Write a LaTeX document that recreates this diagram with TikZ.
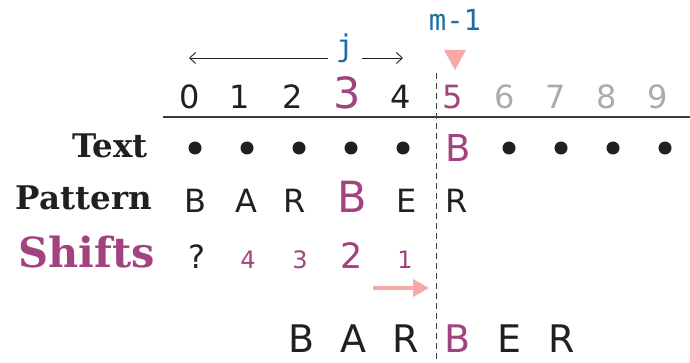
\documentclass[tikz,border=0pt]{standalone}
\usepackage{fontspec}
\usetikzlibrary{arrows.meta}
\newfontfamily\numfont{DejaVu Sans}
\newfontfamily\labfont{DejaVu Serif}
\newfontfamily\monofont{DejaVu Sans Mono}
\definecolor{ink}{HTML}{231F20}
\definecolor{purp}{HTML}{A2437F}
\definecolor{blu}{HTML}{1F6EA3}
\definecolor{lgray}{HTML}{ABABAB}
\definecolor{pinkc}{HTML}{F5A9A8}
\definecolor{rule}{HTML}{3A3A3A}
\tikzset{
  lbl/.style={anchor=base east, inner sep=0pt, text=ink, font=\labfont\bfseries\fontsize{32.5}{32}\selectfont},
  num/.style={anchor=base, inner sep=0pt, text=ink, font=\numfont\fontsize{32}{32}\selectfont},
  bignum/.style={anchor=base, inner sep=0pt, text=purp, font=\numfont\fontsize{43}{43}\selectfont},
  grey/.style={num, text=lgray},
  txtB/.style={anchor=base, inner sep=0pt, text=purp, font=\numfont\fontsize{37}{37}\selectfont},
  small/.style={anchor=base, inner sep=0pt, text=purp, font=\numfont\fontsize{24}{24}\selectfont},
  mid/.style={anchor=base, inner sep=0pt, text=purp, font=\numfont\fontsize{35}{35}\selectfont},
  bot/.style={anchor=base, inner sep=0pt, text=ink, font=\numfont\fontsize{38}{38}\selectfont},
  dotm/.style={circle, fill=ink, inner sep=0pt, minimum size=13pt},
  mono/.style={anchor=base, inner sep=0pt, text=blu, font=\monofont\fontsize{29}{29}\selectfont},
}
\begin{document}
\begin{tikzpicture}[x=1pt, y=-1pt]
\useasboundingbox (0,0) rectangle (690,363);
% index row
\node[num] (d0) at (190,109) {0};
\node[num] (d1) at (240,109) {1};
\node[num] (d2) at (293,109) {2};
\node[bignum] (d3) at (347,109) {3};
\node[num] (d4) at (401,109) {4};
\node[num, text=purp] (d5) at (453,109) {5};
\node[grey] (d6) at (505,109) {6};
\node[grey] (d7) at (556,109) {7};
\node[grey] (d8) at (607,109) {8};
\node[grey] (d9) at (658,109) {9};
% rule under index row
\coordinate (rl) at (163,117);
\coordinate (rr) at (690,117);
\draw[rule, line width=1.3pt] (rl) -- (rr);
% dashed separator
\coordinate (dt) at (436,73);
\coordinate (db) at (436,363);
\draw[rule, line width=1pt, dash pattern=on 6pt off 4pt] (dt) -- (db);
% labels
\node[lbl] (ltext) at (148,158) {Text};
\node[lbl] (lpat) at (152,210) {Pattern};
\node[lbl, text=purp, font=\labfont\bfseries\fontsize{41.5}{41}\selectfont] (lshift) at (155,267) {Shifts};
% text row
\node[dotm] (t0) at (195,148) {};
\node[dotm] (t1) at (247,148) {};
\node[dotm] (t2) at (299,148) {};
\node[dotm] (t3) at (351,148) {};
\node[dotm] (t4) at (403,148) {};
\node[txtB] (t5) at (458,162) {B};
\node[dotm] (t6) at (509,148) {};
\node[dotm] (t7) at (561,148) {};
\node[dotm] (t8) at (613,148) {};
\node[dotm] (t9) at (665,148) {};
% pattern row
\node[num] (p0) at (195,213) {B};
\node[num] (p1) at (246,213) {A};
\node[num] (p2) at (295,213) {R};
\node[bignum] (p3) at (352,213) {B};
\node[num] (p4) at (407,213) {E};
\node[num] (p5) at (457,213) {R};
% shifts row
\node[num] (s0) at (197,268) {?};
\node[small] (s1) at (248,268) {4};
\node[small] (s2) at (300,268) {3};
\node[mid] (s3) at (352,268) {2};
\node[small] (s4) at (405,268) {1};
% pink shift arrow
\coordinate (pa) at (373,288);
\coordinate (pb) at (429,288);
\draw[pinkc, line width=4pt, -{Triangle[length=16pt, width=17pt]}] (pa) -- (pb);
% shifted pattern
\node[bot] (b0) at (302,352) {B};
\node[bot] (b1) at (353,352) {A};
\node[bot] (b2) at (406,352) {R};
\node[bot, text=purp] (b3) at (458,352) {B};
\node[bot] (b4) at (509,352) {E};
\node[bot] (b5) at (562,352) {R};
% j arrow
\node[mono, font=\monofont\fontsize{30}{30}\selectfont] (j) at (345,57) {j};
\coordinate (jl) at (189,58);
\coordinate (jr) at (403,58);
\draw[ink, line width=0.9pt, -{Straight Barb[length=6pt, width=11pt]}] ([xshift=-8pt]j.west |- jl) -- (jl);
\draw[ink, line width=0.9pt, -{Straight Barb[length=6pt, width=11pt]}] ([xshift=8pt]j.east |- jr) -- (jr);
% m-1 marker
\node[mono] (m) at (455,31) {m-1};
\fill[pinkc] (444,50) -- (466,50) -- (455,70) -- cycle;
\end{tikzpicture}
\end{document}
